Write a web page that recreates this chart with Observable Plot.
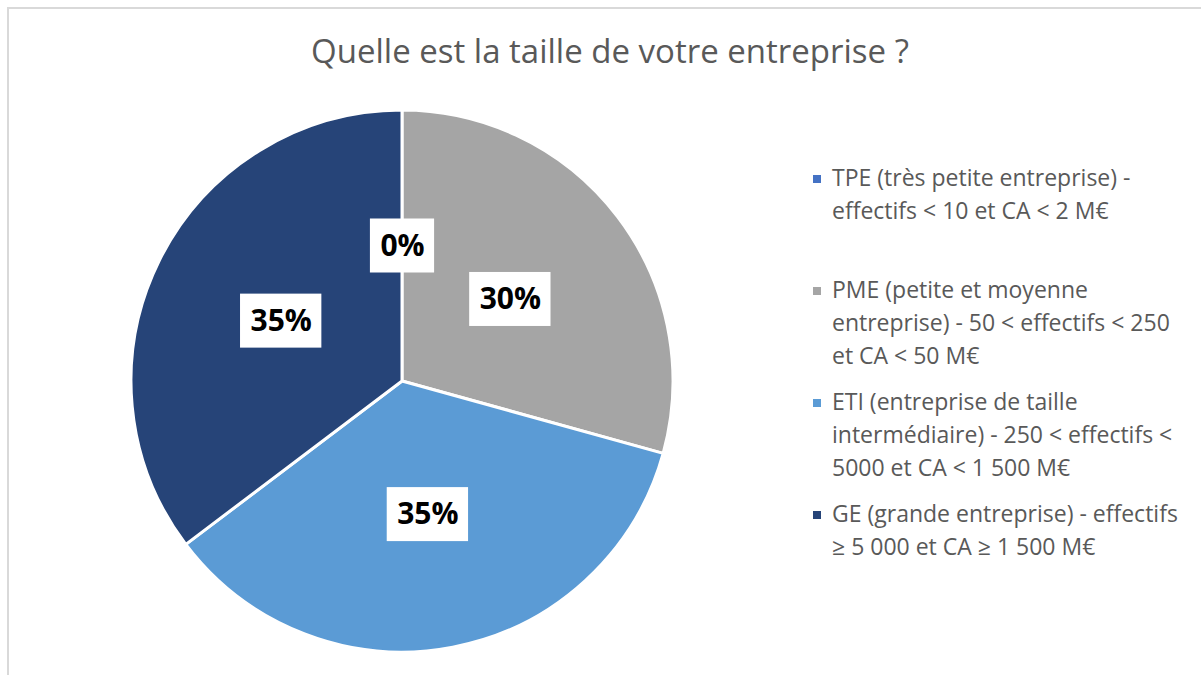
<!DOCTYPE html>
<html><head><meta charset="utf-8">
<script src="https://cdn.jsdelivr.net/npm/d3@7"></script>
<script src="https://cdn.jsdelivr.net/npm/@observablehq/plot@0.6"></script>
<style>
body{margin:0;background:#fff;}
#wrap{position:relative;width:1201px;height:675px;overflow:hidden;font-family:"Open Sans",Lato,sans-serif;}
#frame{position:absolute;left:7px;top:7px;width:1230px;height:700px;border:2px solid #d9d9d9;box-sizing:border-box;}
#title{position:absolute;left:8px;width:1204px;top:31px;line-height:40px;text-align:center;font-size:33px;color:#595959;white-space:nowrap;}
#chart{position:absolute;left:0;top:0;}
#legend{position:absolute;left:812px;top:161px;}
.item{height:112px;position:relative;padding-left:20px;font-size:23px;line-height:33px;color:#595959;white-space:nowrap;}
.sw{position:absolute;left:1px;top:14px;width:8px;height:8px;}
</style></head>
<body>
<div id="wrap">
  <div id="frame"></div>
  <div id="chart"></div>
  <div id="title"></div>
  <div id="legend"></div>
</div>
<script>
const title = "Quelle est la taille de votre entreprise ?";
const categories = ["TPE", "PME", "ETI", "GE"];
const values = [0, 29.3, 35.4, 35.3];
const valueLabels = ["0%", "30%", "35%", "35%"];
const colors = ["#4472c4", "#a5a5a5", "#5b9bd5", "#264478"];
const legendLines = [
  ["TPE (très petite entreprise) -", "effectifs < 10 et CA < 2 M€"],
  ["PME (petite et moyenne", "entreprise) - 50 < effectifs < 250", "et CA < 50 M€"],
  ["ETI (entreprise de taille", "intermédiaire) - 250 < effectifs <", "5000 et CA < 1 500 M€"],
  ["GE (grande entreprise) - effectifs", "≥ 5 000 et CA ≥ 1 500 M€"]
];

const rows = categories.map((c, i) => ({category: c, value: values[i], label: valueLabels[i]}));
const color = d3.scaleOrdinal(categories, colors);
const arcs = d3.pie().sort(null).value(d => d.value)(rows);
const labelRows = arcs.map(a => {
  const m = (a.startAngle + a.endAngle) / 2;
  return {category: a.data.category, label: a.data.label, x: 0.5 * Math.sin(m), y: 0.5 * Math.cos(m)};
});

const labelFont = "'Open Sans', Lato, sans-serif";
const labelSize = 30;

function slices(index, scales) {
  const cx = scales.x(0), cy = scales.y(0);
  const r = scales.x(1) - scales.x(0);
  const arc = d3.arc().innerRadius(0).outerRadius(r);
  const g = d3.create("svg:g").attr("transform", `translate(${cx},${cy})`);
  g.selectAll("path").data(arcs).join("path")
    .attr("d", arc)
    .attr("fill", d => color(d.data.category))
    .attr("stroke", "white").attr("stroke-width", 3).attr("stroke-linejoin", "round");
  return g.node();
}

const ctx = document.createElement("canvas").getContext("2d");
ctx.font = `bold ${labelSize}px ${labelFont}`;
function boxes(index, scales) {
  const g = d3.create("svg:g");
  for (const d of labelRows) {
    const w = ctx.measureText(d.label).width + 20;
    const h = 54;
    g.append("rect")
      .attr("x", scales.x(d.x) - w / 2).attr("y", scales.y(d.y) - h / 2)
      .attr("width", w).attr("height", h).attr("fill", "white");
  }
  return g.node();
}

const plot = Plot.plot({
  width: 1201, height: 675,
  marginLeft: 131, marginRight: 528, marginTop: 110, marginBottom: 23,
  x: {domain: [-1, 1], axis: null},
  y: {domain: [-1, 1], axis: null},
  style: {background: "transparent", overflow: "visible"},
  marks: [
    slices,
    boxes,
    Plot.text(labelRows, {x: "x", y: "y", text: "label", fontSize: labelSize, fontWeight: "bold", fill: "black", fontFamily: labelFont})
  ]
});
document.getElementById("chart").appendChild(plot);
document.getElementById("title").textContent = title;

const legend = d3.select("#legend");
categories.forEach((c, i) => {
  const item = legend.append("div").attr("class", "item");
  item.append("div").attr("class", "sw").style("background", colors[i]);
  item.append("div").html(legendLines[i].join("<br>"));
});
</script>
</body></html>
